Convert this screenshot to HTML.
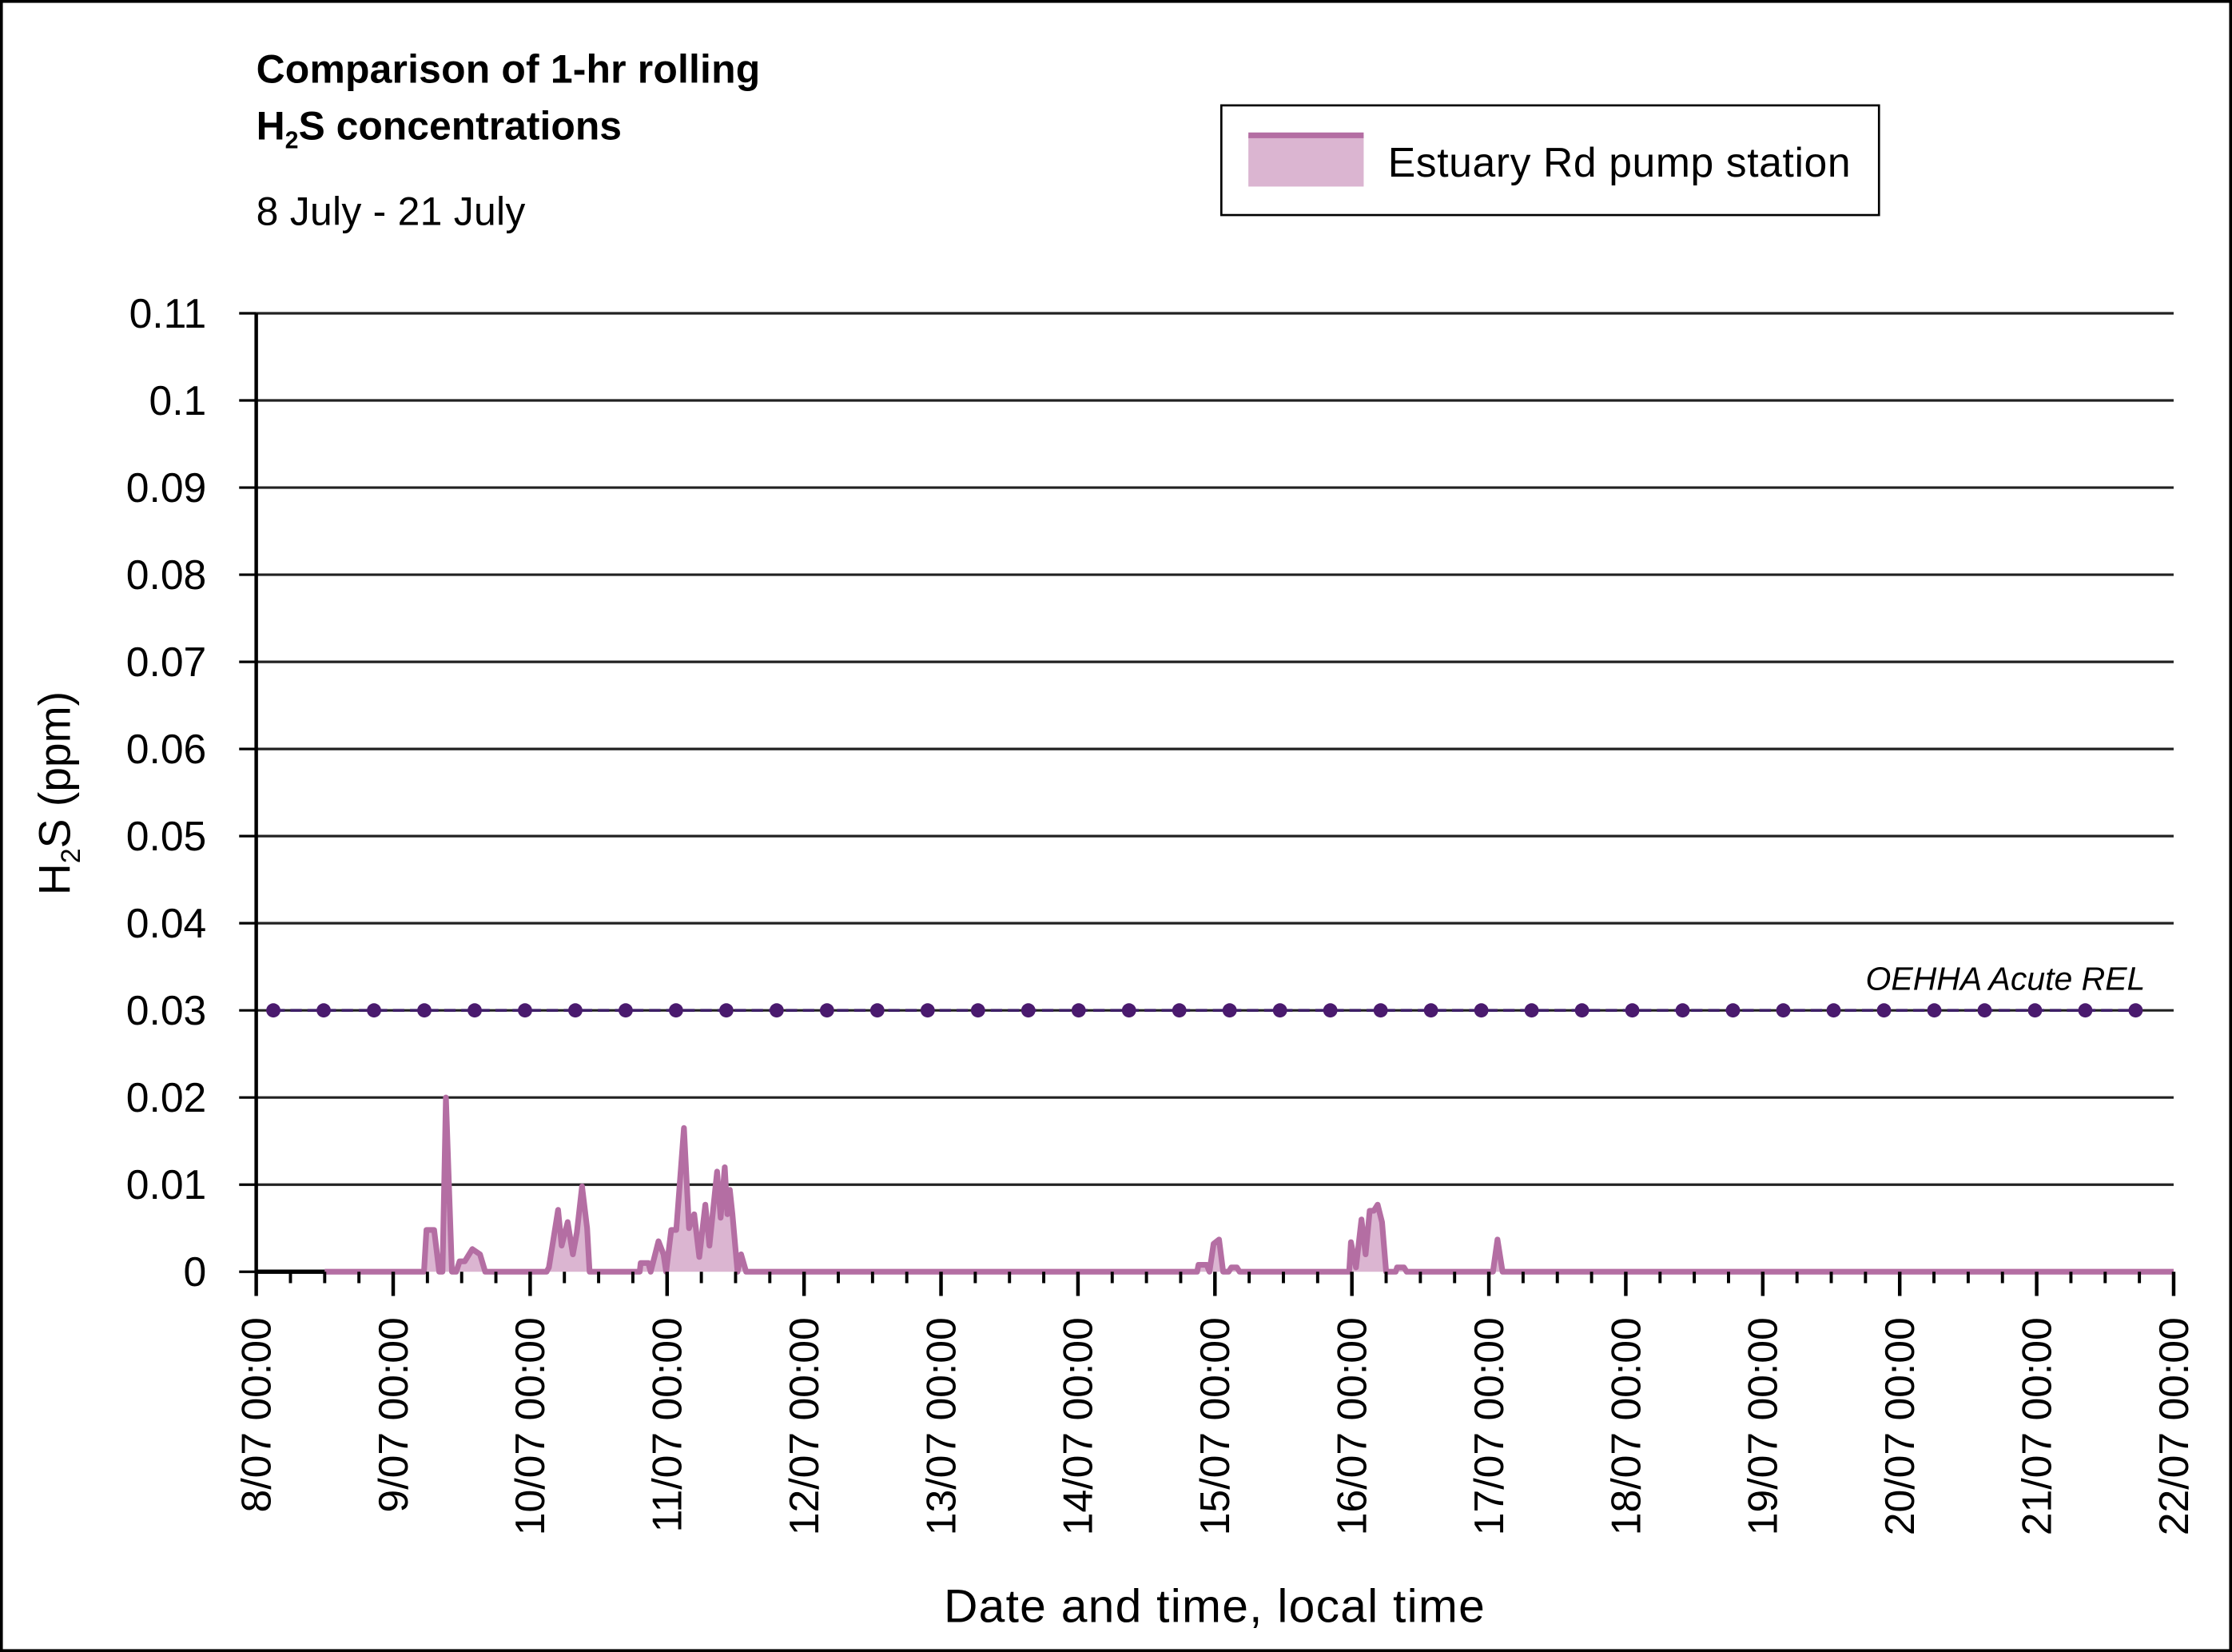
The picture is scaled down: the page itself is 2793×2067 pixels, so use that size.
<!DOCTYPE html>
<html><head><meta charset="utf-8"><style>
html,body{margin:0;padding:0;background:#fff}
svg{display:block;font-family:"Liberation Sans",sans-serif}
</style></head><body>
<svg id="chart" width="2793" height="2067" viewBox="0 0 1568 1160" preserveAspectRatio="none" xmlns="http://www.w3.org/2000/svg">
<rect x="1" y="1" width="1566" height="1158" fill="#fff" stroke="#000" stroke-width="2"/>
<text x="180" y="58" font-size="28" font-weight="bold" textLength="354">Comparison of 1-hr rolling</text>
<text x="180" y="98" font-size="28" font-weight="bold">H<tspan font-size="17" dy="6">2</tspan><tspan dy="-6">S concentrations</tspan></text>
<text x="180" y="158" font-size="28" textLength="189">8 July - 21 July</text>
<g>
<rect x="858" y="74" width="462" height="77" fill="#fff" stroke="#000" stroke-width="1.5"/>
<rect x="877" y="95" width="81" height="36" fill="#dbb5d1"/>
<line x1="877" y1="95" x2="958" y2="95" stroke="#b46ea3" stroke-width="4"/>
<text x="975" y="124" font-size="29" textLength="325">Estuary Rd pump station</text>
</g>
<g id="grid"></g><g id="series"></g><g id="axes"></g><g id="rel"></g>
<text transform="translate(49,557) rotate(-90)" text-anchor="middle" font-size="31">H<tspan font-size="19" dy="7">2</tspan><tspan dy="-7">S (ppm)</tspan></text>
<text x="853" y="1139" text-anchor="middle" font-size="33" textLength="380">Date and time, local time</text>
<text x="1507" y="695" text-anchor="end" font-size="23" font-style="italic">OEHHA Acute REL</text>
</svg>
<script>
const yTicks=[0,0.01,0.02,0.03,0.04,0.05,0.06,0.07,0.08,0.09,0.1,0.11];
const yTickLabels=["0","0.01","0.02","0.03","0.04","0.05","0.06","0.07","0.08","0.09","0.1","0.11"];
const xDays=[0,1,2,3,4,5,6,7,8,9,10,11,12,13,14];
const xTickLabels=["8/07 00:00","9/07 00:00","10/07 00:00","11/07 00:00","12/07 00:00","13/07 00:00","14/07 00:00","15/07 00:00","16/07 00:00","17/07 00:00","18/07 00:00","19/07 00:00","20/07 00:00","21/07 00:00","22/07 00:00"];
const seriesDays=[0.5,1.225,1.243,1.299,1.336,1.36,1.385,1.429,1.46,1.485,1.523,1.578,1.634,1.672,2.12,2.137,2.204,2.230,2.274,2.312,2.341,2.379,2.416,2.434,2.8,2.807,2.863,2.88,2.937,2.974,2.993,3.030,3.067,3.123,3.160,3.198,3.235,3.279,3.309,3.365,3.391,3.421,3.440,3.458,3.477,3.514,3.540,3.577,6.87,6.88,6.94,6.96,6.99,7.03,7.06,7.1,7.12,7.16,7.18,7.98,7.993,8.03,8.07,8.1,8.13,8.16,8.188,8.22,8.25,8.32,8.33,8.38,8.4,9.03,9.063,9.1,14];
const seriesValues=[0,0,0.0048,0.0048,0,0,0.02,0,0,0.0012,0.0012,0.0026,0.002,0,0,0.0005,0.0071,0.003,0.0057,0.002,0.0045,0.0098,0.005,0,0,0.001,0.001,0,0.0035,0.002,0,0.0048,0.0048,0.0165,0.005,0.0066,0.0017,0.0077,0.003,0.0115,0.0062,0.012,0.0066,0.0094,0.0066,0,0.002,0,0,0.0008,0.0008,0,0.0032,0.0037,0,0,0.0005,0.0005,0,0,0.0034,0.0005,0.006,0.002,0.007,0.007,0.0077,0.0057,0,0,0.0005,0.0005,0,0,0.0037,0,0];
const relValue=0.03;
const relMarkerDays=Array.from({length:38},(_,i)=>0.125+i*0.3675);
const NS="http://www.w3.org/2000/svg";
const X0=180,X1=1527,Y0=893,Y1=220;
const xS=d=>X0+(d-0)/(14-0)*(X1-X0);
const yS=v=>Y0-(v-0)/(0.11-0)*(Y0-Y1);
function mk(tag,attrs,parent){const e=document.createElementNS(NS,tag);for(const k in attrs)e.setAttribute(k,attrs[k]);parent.appendChild(e);return e;}
const grid=document.getElementById('grid'),axes=document.getElementById('axes'),ser=document.getElementById('series'),rel=document.getElementById('rel');
yTicks.forEach((v,i)=>{
  if(v>0){const g=mk('line',{x1:X0,x2:X1,y1:yS(v),y2:yS(v),stroke:'#222','stroke-width':1.8},grid);
  
  }
  const t=mk('line',{x1:X0-12,x2:X0,y1:yS(v),y2:yS(v),stroke:'#000','stroke-width':1.8},axes);
  
  
  const l=mk('text',{x:145,y:yS(v)+10,'text-anchor':'end','font-size':29},axes);
  l.textContent=yTickLabels[i];
  
  
});
const ya=mk('line',{x1:X0,x2:X0,y1:Y1,y2:Y0,stroke:'#000','stroke-width':2.5},axes);


const xa=mk('line',{x1:X0,x2:xS(0.5),y1:Y0,y2:Y0,stroke:'#000','stroke-width':3},axes);


for(let q=0;q<=56;q++){
  const d=q/4,maj=q%4===0;
  const t=mk('line',{x1:xS(d),x2:xS(d),y1:Y0,y2:Y0+(maj?17:8),stroke:'#000','stroke-width':maj?2.5:2.2},axes);
  
  
}
xDays.forEach((d,i)=>{
  const l=mk('text',{transform:`translate(${xS(d)+10},925) rotate(-90)`,'text-anchor':'end','font-size':29},axes);
  l.textContent=xTickLabels[i];
  
  
});
let pts=seriesDays.map((d,i)=>xS(d).toFixed(2)+','+yS(seriesValues[i]).toFixed(2));
const area=mk('polygon',{points:xS(seriesDays[0])+','+Y0+' '+pts.join(' ')+' '+xS(seriesDays[seriesDays.length-1])+','+Y0,fill:'#dbb5d1'},ser);


const line=mk('polyline',{points:pts.join(' '),fill:'none',stroke:'#b46ea3','stroke-width':4,'stroke-linejoin':'round'},ser);


const rl=mk('line',{x1:xS(relMarkerDays[0]),x2:xS(relMarkerDays[relMarkerDays.length-1]),y1:yS(relValue),y2:yS(relValue),stroke:'#3d1f66','stroke-width':2,'stroke-dasharray':'8,4'},rel);


relMarkerDays.forEach(d=>{
  const c=mk('circle',{cx:xS(d),cy:yS(relValue),r:5,fill:'#4a1a6e'},rel);
  
  
});
</script>
</body></html>
